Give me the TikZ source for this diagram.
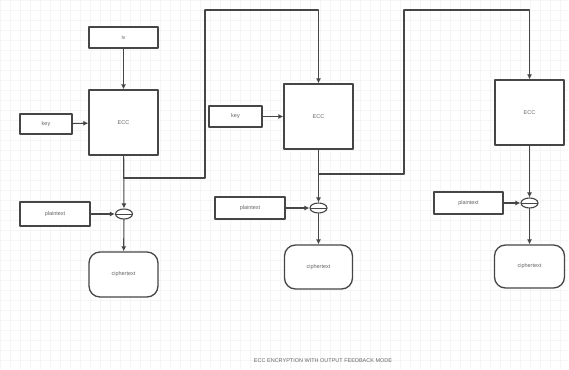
\documentclass[tikz,border=0pt]{standalone}
\usepackage{fontspec}
\setmainfont{Liberation Sans}
\usetikzlibrary{arrows.meta,shapes.geometric}
\definecolor{eccline}{RGB}{70,70,70}
\definecolor{ecctext}{RGB}{100,100,100}

\tikzset{
  blk/.style={draw=eccline,line width=1.3pt,fill=white,inner sep=0pt,
    text=ecctext,font=\fontsize{5.5}{6}\selectfont},
  ciph/.style={blk,rounded corners=11pt},
  xorop/.style={draw=eccline,line width=1.1pt,fill=white,ellipse,inner sep=0pt,
    minimum width=17pt,minimum height=10pt,
    path picture={\draw[eccline,line width=0.8pt]
      (path picture bounding box.west) -- (path picture bounding box.east);}},
  flow/.style={draw=eccline,line width=1.1pt,-{Latex[length=5pt,width=5pt]}},
  wire/.style={draw=eccline,line width=1.1pt}
}

\begin{document}
\begin{tikzpicture}[x=1pt,y=-1pt,line cap=round,line join=round]
  \path[use as bounding box] (0,0) rectangle (569,369);
  \fill[white] (0,0) rectangle (569,369);
  \draw[step=10pt,gray!8,very thin] (0,0) grid (569,369);

  % first stage
  \node[blk,minimum width=69pt,minimum height=21pt] (iv) at (123.5,37.5) {iv};
  \node[blk,minimum width=69pt,minimum height=65pt] (ecc1) at (123.5,122.5) {ECC};
  \node[blk,minimum width=52pt,minimum height=20pt] (key1) at (46,124) {key};
  \node[xorop] (xor1) at (124,214) {};
  \node[blk,minimum width=70pt,minimum height=24pt] (plain1) at (55,214) {plaintext};
  \node[ciph,minimum width=69pt,minimum height=45pt] (cipher1) at (123.5,274.5) {ciphertext};

  % second stage
  \node[blk,minimum width=69pt,minimum height=65pt] (ecc2) at (318.5,116.5) {ECC};
  \node[blk,minimum width=53pt,minimum height=21pt] (key2) at (235.5,116.5) {key};
  \node[xorop] (xor2) at (318.5,208) {};
  \node[blk,minimum width=70pt,minimum height=22pt] (plain2) at (250,208) {plaintext};
  \node[ciph,minimum width=68pt,minimum height=44pt] (cipher2) at (318.5,267) {ciphertext};

  % third stage
  \node[blk,minimum width=69pt,minimum height=65pt] (ecc3) at (529.5,112.5) {ECC};
  \node[xorop] (xor3) at (529.5,203) {};
  \node[blk,minimum width=69pt,minimum height=22pt] (plain3) at (468.5,203) {plaintext};
  \node[ciph,minimum width=70pt,minimum height=43pt] (cipher3) at (529.5,266.5) {ciphertext};

  % feedback taps
  \coordinate (tap1) at (123.5,178);
  \coordinate (bend1) at (205,10);
  \coordinate (tap2) at (318.5,174);
  \coordinate (bend2) at (404,10);

  \draw[flow] (iv) -- (ecc1);
  \draw[flow] (key1) -- (ecc1);
  \draw[flow] (ecc1) -- (xor1);
  \draw[flow] (plain1) -- (xor1);
  \draw[flow] (xor1) -- (cipher1);
  \draw[wire] (tap1) -| (bend1);
  \draw[flow] (bend1) -| (ecc2.north);

  \draw[flow] (key2) -- (ecc2);
  \draw[flow] (ecc2) -- (xor2);
  \draw[flow] (plain2) -- (xor2);
  \draw[flow] (xor2) -- (cipher2);
  \draw[wire] (tap2) -| (bend2);
  \draw[flow] (bend2) -| (ecc3.north);

  \draw[flow] (ecc3) -- (xor3);
  \draw[flow] (plain3) -- (xor3);
  \draw[flow] (xor3) -- (cipher3);

  \node[text=ecctext,font=\fontsize{5.5}{6}\selectfont] (caption) at (323,361)
    {ECC ENCRYPTION WITH OUTPUT FEEDBACK MODE};
\end{tikzpicture}
\end{document}
